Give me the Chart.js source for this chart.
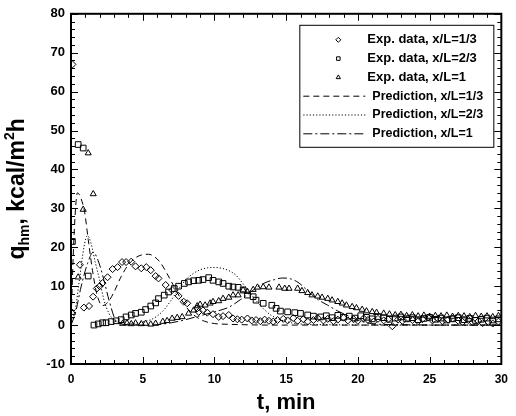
<!DOCTYPE html>
<html>
<head>
<meta charset="utf-8">
<script src="https://cdn.jsdelivr.net/npm/chart.js@4.4.1/dist/chart.umd.min.js"></script>
<style>
  body { margin: 0; background: #fff; }
  #wrap { width: 516px; height: 416px; }
</style>
</head>
<body>
<div id="wrap"><canvas id="mychart" width="516" height="416"></canvas></div>
<script>
// axis ranges / ticks
var xTicks = [0, 5, 10, 15, 20, 25, 30];
var yTicks = [-10, 0, 10, 20, 30, 40, 50, 60, 70, 80];

var labels = ['Exp. data, x/L=1/3', 'Exp. data, x/L=2/3', 'Exp. data, x/L=1',
              'Prediction, x/L=1/3', 'Prediction, x/L=2/3', 'Prediction, x/L=1'];

// measured points [t (min), q_hm]
var exp13 = [[0.1,67],[0.62,15.5],[0.9,4.5],[1.26,4.9],[1.54,7.3],[1.8,9.4],[2.0,10],[2.2,10.8],[2.55,12.3],
  [2.9,14.4],[3.25,14.9],[3.56,16.2],[3.84,16.2],[4.2,16.3],[4.5,15.1],[4.9,14.6],[5.25,14.9],[5.56,14.1],
  [5.9,12.6],[6.1,12],[6.6,10.3],[7.05,9],[7.5,7.5],[7.86,6],[8.1,5.6],[8.8,4.3],[8.9,3.4],[9.2,3.8],
  [9.5,3.2],[9.9,2.8],[10.3,2.1],[10.6,2.3],[11,2.6],[11.3,1.7],[11.6,1.5],[11.9,1.4],[12.3,1.7],[12.6,1.2],
  [12.9,1.3],[13.2,1.0],[13.5,1.4],[13.8,1.1],[14.1,0.9],[14.4,1.3],[14.8,1.6],[15.1,1.2],[15.5,1.8],
  [15.8,1.1],[16.2,1.5],[16.5,0.9],[16.9,1.3],[17.2,1.8],[17.6,1.2],[17.9,1.6],[18.3,1.0],[18.6,1.4],
  [19.0,1.9],[19.3,1.2],[19.7,1.5],[20.0,1.1],[20.4,1.7],[20.7,1.3],[21.1,0.9],[21.4,1.6],[21.8,1.2],
  [22.1,1.5],[22.4,-0.3],[22.8,1.4],[23.1,1.1],[23.5,1.8],[23.8,1.3],[24.2,1.0],[24.5,1.5],[24.9,1.9],
  [25.2,1.2],[25.6,1.6],[25.9,1.0],[26.3,1.4],[26.6,1.7],[27.0,1.1],[27.3,0.8],[27.7,1.3],[28.0,0.7],
  [28.4,1.0],[28.7,0.5],[29.1,0.8],[29.4,0.4],[29.8,0.9]];

var exp23 = [[0.1,21.5],[0.5,46.4],[0.85,45.5],[1.2,12.6],[1.6,0],[1.9,0.3],[2.2,0.6],[2.45,0.6],[2.8,0.9],
  [3.15,1.1],[3.5,1.4],[3.84,2.1],[4.2,2.6],[4.5,3],[4.9,3.3],[5.2,4],[5.56,4.9],[5.9,5.7],[6.1,6.8],
  [6.5,7.7],[6.8,8.5],[7.2,9.4],[7.5,10],[7.9,10.7],[8.2,11.1],[8.55,11.4],[8.9,11.5],[9.2,11.7],[9.6,12.2],
  [9.9,11.5],[10.3,11.1],[10.6,10.7],[11,10],[11.3,9.8],[11.65,9.7],[12,9],[12.3,7.7],[12.7,7.3],[12.9,6.4],
  [13.4,5.6],[14,5.1],[14.3,4.3],[14.6,3.6],[15.1,3.4],[15.6,3.2],[16,3],[16.5,2.6],[16.9,2.3],[17.4,2.1],
  [17.8,2.4],[18.2,1.9],[18.6,2.5],[19.0,2.0],[19.4,2.3],[19.8,1.8],[20.2,2.4],[20.6,2.0],[21.0,1.6],
  [21.4,2.2],[21.8,1.9],[22.2,1.5],[22.6,1.8],[23.0,2.1],[23.4,1.6],[23.8,1.9],[24.2,1.4],[24.6,1.7],
  [25.0,2.0],[25.4,1.5],[25.8,1.8],[26.2,1.3],[26.6,1.6],[27.0,1.9],[27.4,1.4],[27.8,1.7],[28.2,1.2],
  [28.6,1.5],[29.0,1.8],[29.4,1.3],[29.8,1.6]];

var exp1 = [[0.1,3.2],[0.5,12.3],[0.85,29.7],[1.2,44.2],[1.55,33.7],[3.6,0.4],[3.9,0.5],[4.2,0.3],[4.5,0.5],
  [4.9,0.3],[5.2,0.4],[5.56,0.2],[5.9,0.4],[6.4,0.9],[6.7,1.1],[7.05,1.7],[7.4,1.9],[7.75,2.1],[8.2,3],
  [8.55,3.8],[8.8,4.9],[9.0,5.3],[9.35,5.1],[9.7,5.6],[9.9,6],[10.3,6.2],[10.6,6.8],[11,7.1],[11.3,7.7],
  [11.65,7.7],[12,9],[12.3,8.6],[12.7,9.1],[13,9.7],[13.4,9.8],[13.8,9.7],[14.5,9.7],[14.9,9.4],[15.2,9.4],
  [15.8,9.4],[16.1,8.8],[16.5,8.3],[16.8,7.7],[17.2,7.4],[17.5,7.1],[17.9,6.8],[18.2,6.4],[18.6,6],
  [18.9,5.6],[19.2,5.1],[19.6,4.7],[19.9,4.4],[20.3,4],[20.6,3.6],[21,3.4],[21.3,3.2],[21.8,3],[22.2,2.8],
  [22.6,2.6],[23.0,2.7],[23.4,2.4],[23.8,2.6],[24.2,2.3],[24.6,2.5],[25.0,2.2],[25.4,2.4],[25.8,2.3],
  [26.2,2.5],[26.6,2.2],[27.0,2.4],[27.4,2.3],[27.8,2.1],[28.2,2.4],[28.6,2.2],[29.0,2.3],[29.4,2.1],[29.8,2.4]];

// predicted curves
var predT13 = [0,0.2,0.45,0.7,0.95,1.2,1.5,1.8,2.2,2.6,3,3.5,4,4.5,5,5.4,5.8,6.2,6.7,7.2,7.7,8.2,8.7,9.3,10,11,12,14,17,20,25,30];
var predQ13 = [0,22,34,32.5,29,22,14,8,5,6,8.5,12.5,15.5,17.3,18.1,18.2,17.6,16.2,13.2,9.8,6.5,3.9,2.2,1.0,0.4,0.2,0.1,0,0,0,0,0];

var predT23 = [0,0.3,0.6,0.9,1.15,1.4,1.7,2.0,2.3,2.65,3.0,3.5,4,4.5,5,5.5,6,6.5,7,7.5,8,8.5,9,9.5,10,10.5,11,11.5,12,12.5,13,13.5,14,15,16,18,22,30];
var predQ23 = [0,4,12,20,23,21,16,11.5,6.4,3,1.2,0.4,0.3,0.5,0.8,1.3,2.3,4,6.5,9.2,11.6,13.2,14.2,14.7,14.8,14.6,14,12.8,10.6,8.2,5.9,3.9,2.4,0.9,0.3,0.1,0,0];

var predT1 = [0,0.3,0.7,1.15,1.55,1.9,2.3,2.65,3.1,3.5,4,5,6,7,8,9,10,11,11.8,12.5,13,13.6,14.2,14.75,15.3,15.9,16.5,17.2,17.9,18.6,19.2,19.9,20.6,21.5,23,26,30];
var predQ1 = [0,3,9.8,15.8,18.7,16.5,11.5,6.4,1.3,0.3,0.1,0,0.1,0.6,1.4,2.4,3.4,4.6,6.5,8.4,9.8,11,11.7,12.1,11.9,10.8,8.8,6.6,5.1,3.6,2.6,1.4,0.6,0.2,0.1,0,0];

var yTitleParts = [['q', 0], ['hm', 1], [', kcal/m', 0], ['2', 2], ['h', 0]];

var FONT = '"Liberation Sans", Arial, sans-serif';

function pairs(arr) { return arr.map(function (p) { return { x: p[0], y: p[1] }; }); }
function zip(t, q) { return t.map(function (v, i) { return { x: v, y: q[i] }; }); }

function expSet(label, data, style, r) {
  return {
    label: label, data: pairs(data), showLine: false,
    pointStyle: style, pointRadius: r, pointBorderWidth: 1,
    pointBorderColor: '#000', pointBackgroundColor: 'rgba(0,0,0,0)'
  };
}
function predSet(label, t, q, dash) {
  return {
    label: label, data: zip(t, q), showLine: true, pointRadius: 0,
    borderColor: '#000', borderWidth: 1, borderDash: dash,
    cubicInterpolationMode: 'monotone', fill: false
  };
}

// inward ticks on all four sides + frame
var frameTicks = {
  id: 'frameTicks',
  afterDatasetsDraw: function (chart) {
    var ctx = chart.ctx, a = chart.chartArea;
    var xs = chart.scales.x, ys = chart.scales.y;
    ctx.save();
    ctx.strokeStyle = '#000';
    ctx.lineWidth = 1;
    ctx.beginPath();
    for (var t = xs.min; t <= xs.max; t++) {
      var px = Math.round(xs.getPixelForValue(t)) + 0.5;
      var len = (t % 5 === 0) ? 7 : 4;
      ctx.moveTo(px, a.bottom); ctx.lineTo(px, a.bottom - len);
      ctx.moveTo(px, a.top); ctx.lineTo(px, a.top + len);
    }
    for (var v = ys.min; v <= ys.max; v += 2) {
      var py = Math.round(ys.getPixelForValue(v)) + 0.5;
      var l2 = (v % 10 === 0) ? 7 : 4;
      ctx.moveTo(a.left, py); ctx.lineTo(a.left + l2, py);
      ctx.moveTo(a.right, py); ctx.lineTo(a.right - l2, py);
    }
    ctx.stroke();
    ctx.lineWidth = 2;
    ctx.strokeRect(a.left, a.top, a.right - a.left, a.bottom - a.top);
    ctx.restore();
  }
};

// y title with subscript / superscript
var yTitle = {
  id: 'yTitle',
  afterDraw: function (chart) {
    var ctx = chart.ctx, a = chart.chartArea;
    var sizes = [23, 14, 14], shifts = [0, 5, -10];
    ctx.save();
    ctx.fillStyle = '#000';
    ctx.textBaseline = 'alphabetic';
    ctx.textAlign = 'left';
    var total = 0;
    yTitleParts.forEach(function (p) {
      ctx.font = 'bold ' + sizes[p[1]] + 'px ' + FONT;
      total += ctx.measureText(p[0]).width;
    });
    ctx.translate(24, (a.top + a.bottom) / 2);
    ctx.rotate(-Math.PI / 2);
    var x = -total / 2;
    yTitleParts.forEach(function (p) {
      ctx.font = 'bold ' + sizes[p[1]] + 'px ' + FONT;
      ctx.fillText(p[0], x, shifts[p[1]]);
      x += ctx.measureText(p[0]).width;
    });
    ctx.restore();
  }
};

// boxed legend in the upper right
var boxLegend = {
  id: 'boxLegend',
  afterDraw: function (chart) {
    var ctx = chart.ctx, a = chart.chartArea;
    var right = a.right - 8, top = a.top + 11, w = 194, h = 122;
    var left = right - w;
    ctx.save();
    ctx.strokeStyle = '#000';
    ctx.fillStyle = '#fff';
    ctx.lineWidth = 1;
    ctx.fillRect(left, top, w, h);
    ctx.strokeRect(left + 0.5, top + 0.5, w, h);
    ctx.textBaseline = 'middle';
    chart.data.datasets.forEach(function (ds, i) {
      var y = top + 15 + i * 18.8;
      if (ds.showLine) {
        ctx.setLineDash(ds.borderDash);
        ctx.beginPath();
        ctx.moveTo(left + 4, y); ctx.lineTo(left + 66, y);
        ctx.stroke();
        ctx.setLineDash([]);
        ctx.fillStyle = '#000';
        ctx.font = 'bold 12.5px ' + FONT;
        ctx.fillText(ds.label, left + 73, y);
      } else {
        ctx.fillStyle = '#fff';
        Chart.helpers.drawPoint(ctx, { pointStyle: ds.pointStyle, radius: 2.5, rotation: 0, borderWidth: 1 }, left + 39, y);
        ctx.fillStyle = '#000';
        ctx.font = 'bold 13px ' + FONT;
        ctx.fillText(ds.label, left + 68, y);
      }
    });
    ctx.restore();
  }
};

var ctx = document.getElementById('mychart');
var myChart = new Chart(ctx, {
  type: 'scatter',
  data: {
    datasets: [
      expSet(labels[0], exp13, 'rectRot', 3.5),
      expSet(labels[1], exp23, 'rect', 4),
      expSet(labels[2], exp1, 'triangle', 3.5),
      predSet(labels[3], predT13, predQ13, [6, 4]),
      predSet(labels[4], predT23, predQ23, [1.2, 2]),
      predSet(labels[5], predT1, predQ1, [9, 3, 2, 3])
    ]
  },
  options: {
    responsive: false,
    animation: false,
    layout: { padding: { left: 0, right: 10, top: 13, bottom: 0 } },
    plugins: { legend: { display: false }, tooltip: { enabled: false } },
    scales: {
      x: {
        type: 'linear', min: xTicks[0], max: xTicks[xTicks.length - 1],
        afterBuildTicks: function (s) { s.ticks = xTicks.map(function (v) { return { value: v }; }); },
        grid: { display: false, drawTicks: false },
        border: { display: false },
        ticks: { color: '#000', padding: 8, font: { family: FONT, size: 12, weight: 'bold' } },
        title: { display: true, text: 't, min', color: '#000', padding: { top: 0, bottom: 0 },
                 font: { family: FONT, size: 22, weight: 'bold' } },
        afterFit: function (s) { s.height = 52; }
      },
      y: {
        type: 'linear', min: yTicks[0], max: yTicks[yTicks.length - 1],
        afterBuildTicks: function (s) { s.ticks = yTicks.map(function (v) { return { value: v }; }); },
        grid: { display: false, drawTicks: false },
        border: { display: false },
        ticks: { color: '#000', padding: 6, font: { family: FONT, size: 13, weight: 'bold' } },
        afterFit: function (s) { s.width = 71; }
      }
    }
  },
  plugins: [frameTicks, yTitle, boxLegend]
});
</script>
</body>
</html>
